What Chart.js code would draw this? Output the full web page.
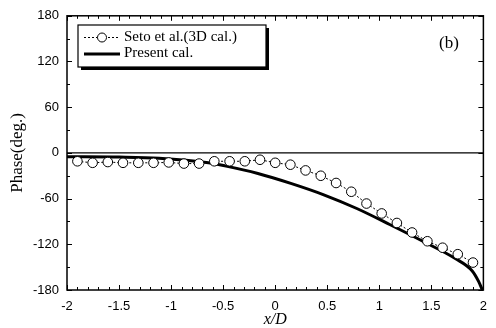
<!DOCTYPE html>
<html><head><meta charset="utf-8">
<script src="https://cdn.jsdelivr.net/npm/chart.js@4"></script>
<style>html,body{margin:0;padding:0;background:#fff}</style>
</head><body>
<canvas id="c" width="496" height="328"></canvas>
<script>
// ---- data ----
const setoX = [-1.9, -1.754, -1.608, -1.462, -1.315, -1.169, -1.023, -0.877, -0.731, -0.585, -0.438, -0.292, -0.146, 0, 0.146, 0.292, 0.438, 0.585, 0.731, 0.877, 1.023, 1.169, 1.315, 1.462, 1.608, 1.754, 1.9];
const setoY = [-11, -13, -12, -13, -13, -13, -12.5, -14, -14, -11, -11, -11, -9, -13, -15.5, -23, -30, -39.5, -51, -66.5, -79.5, -92, -104.5, -116, -124.5, -133, -144];
const presentX = [-2, -1.5, -1.116, -0.641, -0.483, -0.166, 0.15, 0.467, 0.784, 1.1, 1.418, 1.734, 1.893, 1.955, 1.99];
const presentY = [-5, -5.5, -7, -13, -17, -27, -40, -55, -73, -94, -116, -139, -155, -169, -180];
const xTicks = [-2, -1.5, -1, -0.5, 0, 0.5, 1, 1.5, 2];
const yTicks = [-180, -120, -60, 0, 60, 120, 180];
const seriesNames = ['Seto et al.(3D cal.)', 'Present cal.'];
const xTitle = 'x/D';
const yTitle = 'Phase(deg.)';
const panelLabel = '(b)';

const toPts = (xs, ys) => xs.map((x, i) => ({x: x, y: ys[i]}));

const decor = {
  id: 'decor',
  beforeDatasetsDraw(chart) {
    const {ctx, chartArea: a, scales: {y}} = chart;
    const y0 = y.getPixelForValue(0);
    ctx.save();
    ctx.strokeStyle = '#000';
    ctx.lineWidth = 1.3;
    ctx.beginPath(); ctx.moveTo(a.left, y0); ctx.lineTo(a.right, y0); ctx.stroke();
    ctx.restore();
  },
  afterDraw(chart) {
    const {ctx, chartArea: a, scales: {x, y}} = chart;
    ctx.save();
    ctx.strokeStyle = '#000';
    // frame
    ctx.lineWidth = 1.5;
    ctx.strokeRect(a.left, a.top, a.right - a.left, a.bottom - a.top);
    // inward ticks
    ctx.lineWidth = 1;
    ctx.beginPath();
    for (let i = -20; i <= 20; i++) {
      const px = Math.round(x.getPixelForValue(i / 10)) + 0.5;
      const len = (i % 5 === 0) ? 5 : 3;
      ctx.moveTo(px, a.bottom); ctx.lineTo(px, a.bottom - len);
      ctx.moveTo(px, a.top); ctx.lineTo(px, a.top + len);
    }
    for (let v = -180; v <= 180; v += 30) {
      const py = Math.round(y.getPixelForValue(v)) + 0.5;
      const len = (v % 60 === 0) ? 5 : 3;
      ctx.moveTo(a.left, py); ctx.lineTo(a.left + len, py);
      ctx.moveTo(a.right, py); ctx.lineTo(a.right - len, py);
    }
    ctx.stroke();

    // legend box with shadow
    const bx = 78, by = 25, bw = 188, bh = 42;
    ctx.fillStyle = '#000';
    ctx.fillRect(bx + 3, by + 3, bw, bh);
    ctx.fillStyle = '#fff';
    ctx.fillRect(bx, by, bw, bh);
    ctx.lineWidth = 1.2;
    ctx.strokeRect(bx, by, bw, bh);
    // entry 1
    ctx.lineWidth = 1;
    ctx.setLineDash([2, 2]);
    ctx.beginPath(); ctx.moveTo(84, 37.5); ctx.lineTo(120, 37.5); ctx.stroke();
    ctx.setLineDash([]);
    ctx.beginPath(); ctx.arc(102, 37.5, 4.5, 0, Math.PI * 2);
    ctx.fillStyle = '#fff'; ctx.fill(); ctx.stroke();
    // entry 2
    ctx.lineWidth = 3;
    ctx.beginPath(); ctx.moveTo(84, 54); ctx.lineTo(120, 54); ctx.stroke();
    ctx.fillStyle = '#000';
    ctx.font = '15px "Liberation Serif", "Times New Roman", serif';
    ctx.textBaseline = 'middle';
    ctx.textAlign = 'left';
    ctx.fillText(seriesNames[0], 124, 37);
    ctx.fillText(seriesNames[1], 124, 53);
    // panel label
    ctx.font = '17px "Liberation Serif", "Times New Roman", serif';
    ctx.textAlign = 'center';
    ctx.fillText(panelLabel, 449, 44);
    ctx.restore();
  }
};

new Chart(document.getElementById('c'), {
  type: 'scatter',
  data: {
    datasets: [
      {
        label: seriesNames[0],
        data: toPts(setoX, setoY),
        showLine: true,
        borderColor: '#000',
        borderWidth: 1,
        borderDash: [2, 2],
        pointRadius: 4.8,
        pointBackgroundColor: '#fff',
        pointBorderColor: '#000',
        pointBorderWidth: 1,
        order: 1
      },
      {
        label: seriesNames[1],
        data: toPts(presentX, presentY),
        showLine: true,
        borderColor: '#000',
        borderWidth: 3,
        pointRadius: 0,
        cubicInterpolationMode: 'monotone',
        order: 2
      }
    ]
  },
  options: {
    responsive: false,
    animation: false,
    devicePixelRatio: 1,
    layout: {padding: {left: 0, right: 8, top: 15, bottom: 0}},
    plugins: {legend: {display: false}, tooltip: {enabled: false}},
    scales: {
      x: {
        type: 'linear', min: -2, max: 2,
        afterFit(s) { s.height = 38; },
        afterBuildTicks(s) { s.ticks = xTicks.map(v => ({value: v})); },
        grid: {display: false, drawTicks: false},
        border: {display: false},
        ticks: {
          color: '#000', padding: 9,
          font: {family: '"Liberation Sans", Arial, sans-serif', size: 13},
          callback: v => String(v)
        },
        title: {
          display: true, text: xTitle, color: '#000',
          font: {family: '"Liberation Serif", "Times New Roman", serif', size: 16, style: 'italic', lineHeight: 1},
          padding: {top: 0, bottom: 0}
        }
      },
      y: {
        type: 'linear', min: -180, max: 180,
        afterFit(s) { s.width = 67; },
        afterBuildTicks(s) { s.ticks = yTicks.map(v => ({value: v})); },
        grid: {display: false, drawTicks: false},
        border: {display: false},
        ticks: {
          color: '#000', padding: 8,
          font: {family: '"Liberation Sans", Arial, sans-serif', size: 13},
          callback: v => String(v)
        },
        title: {
          display: true, text: yTitle, color: '#000',
          font: {family: '"Liberation Serif", "Times New Roman", serif', size: 17, lineHeight: 1},
          padding: {top: 9, bottom: 0}
        }
      }
    }
  },
  plugins: [decor]
});
</script>
</body></html>
